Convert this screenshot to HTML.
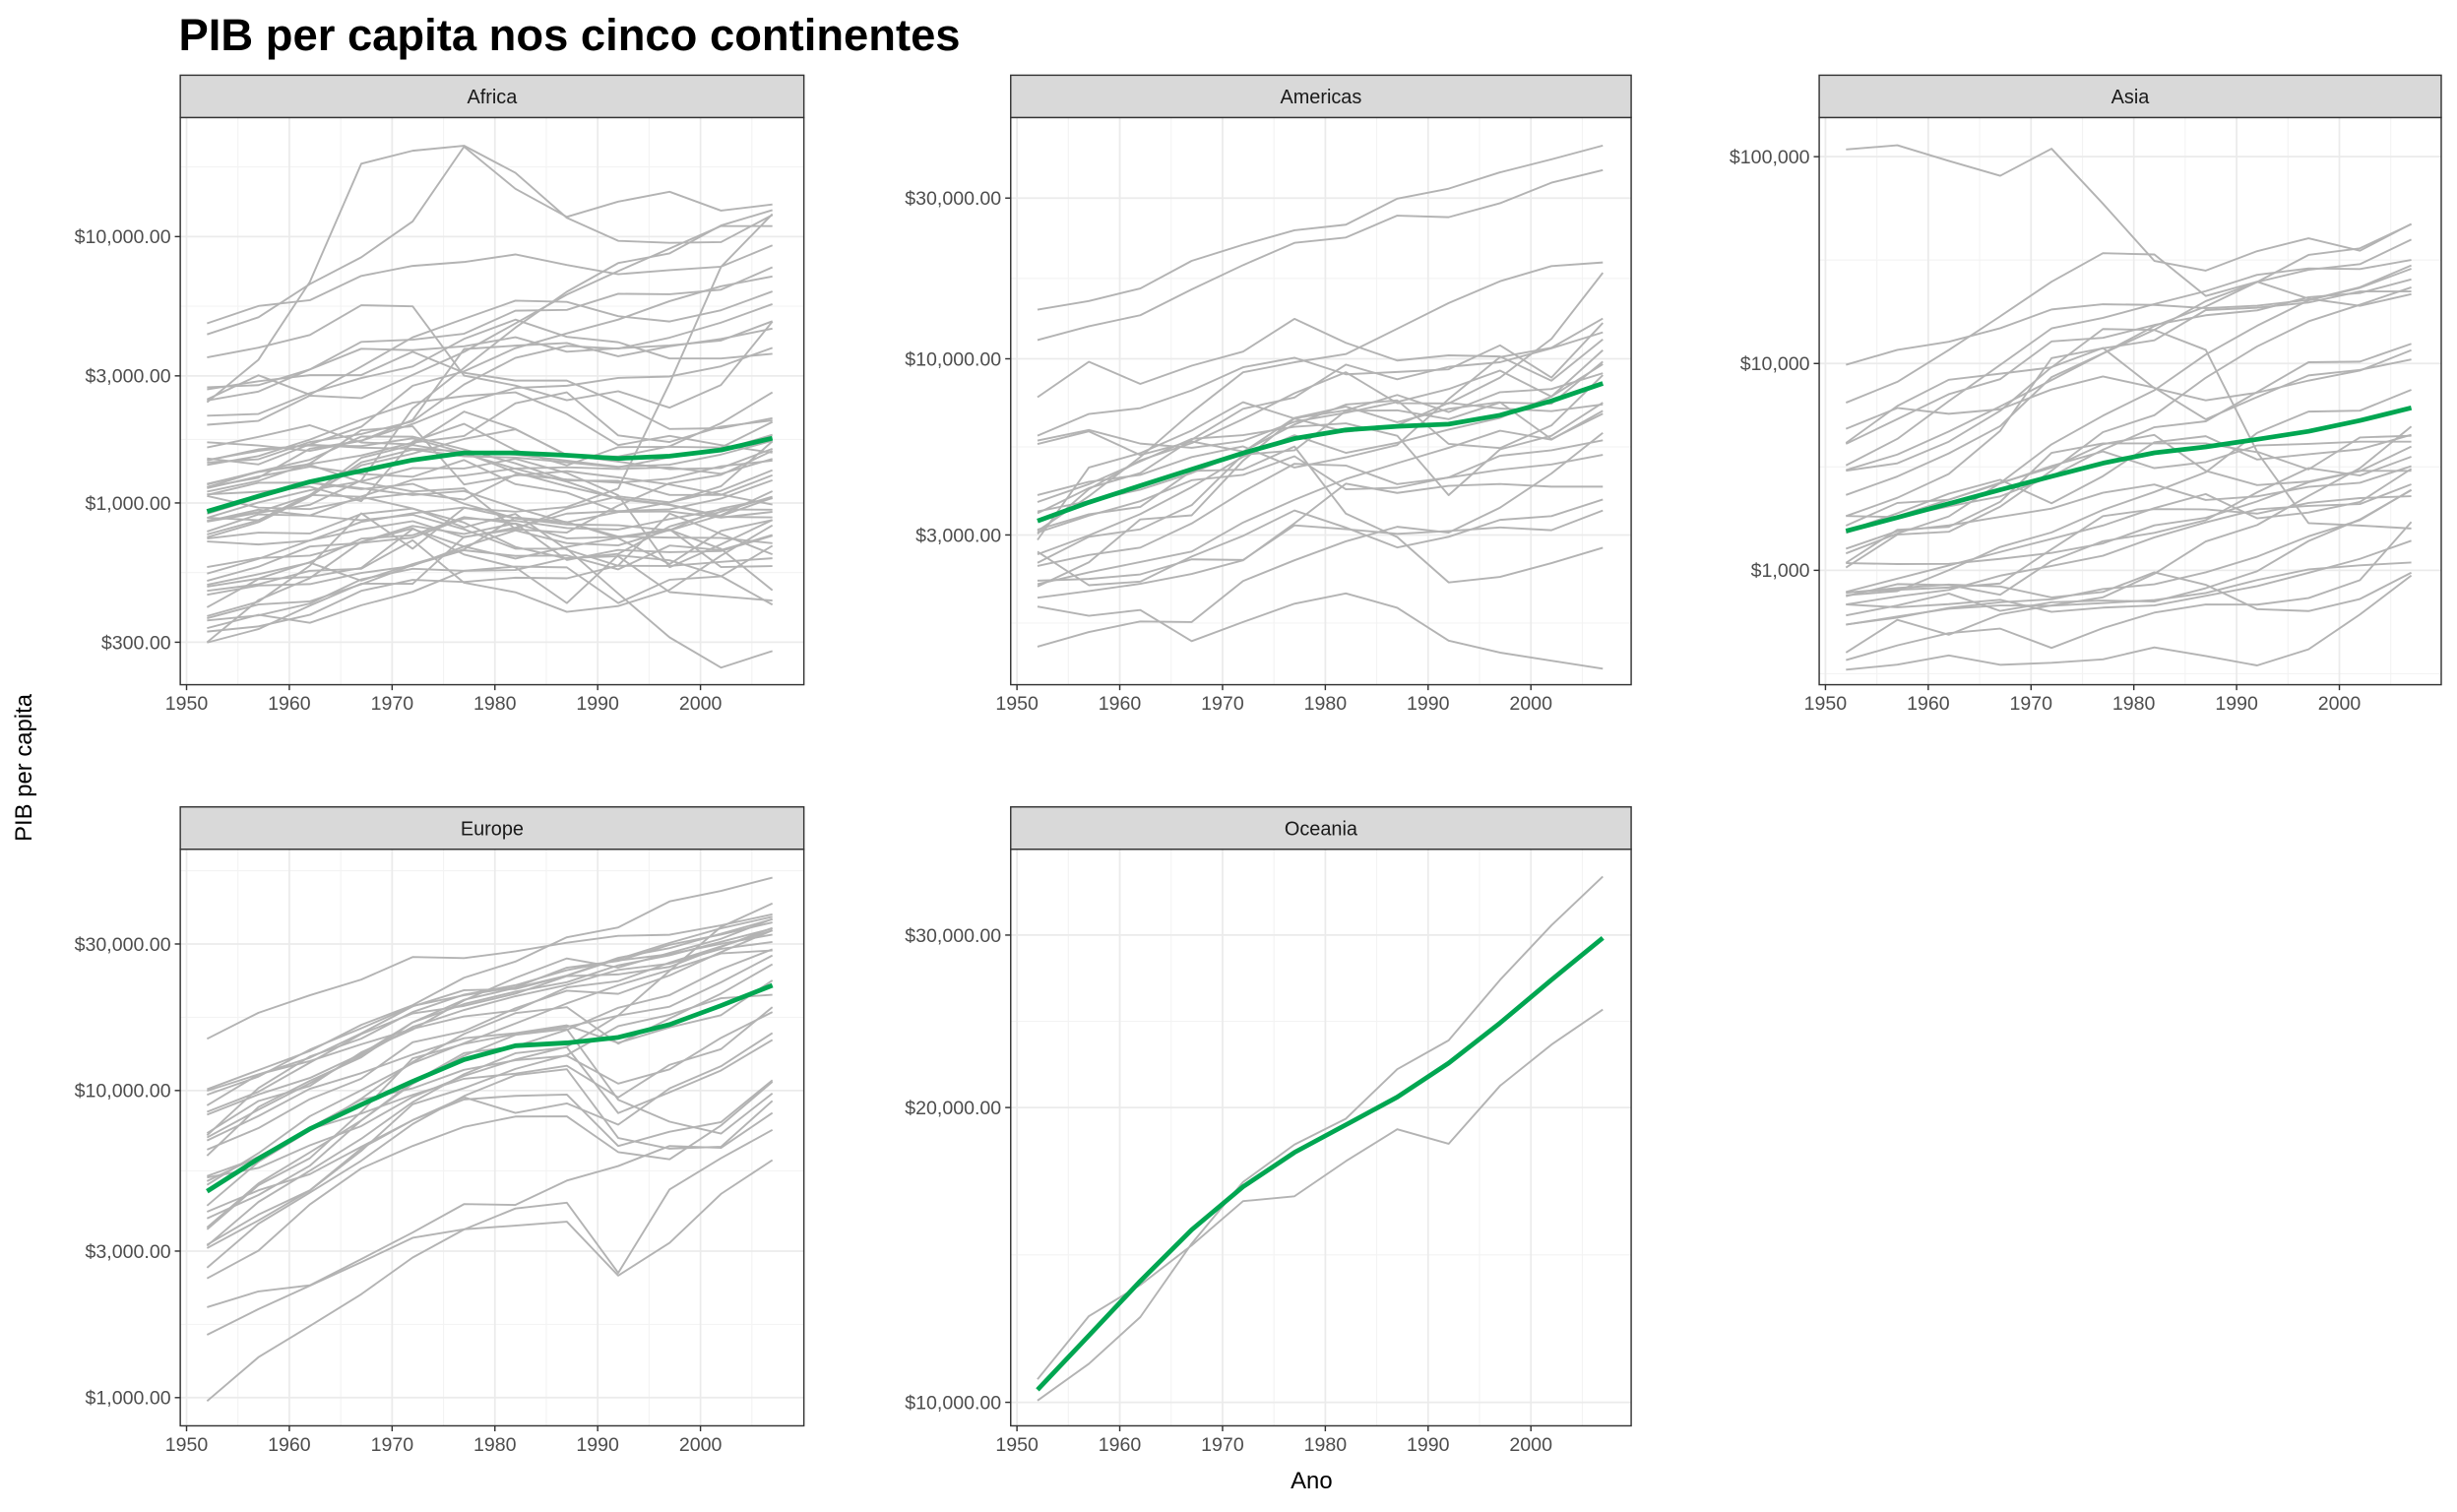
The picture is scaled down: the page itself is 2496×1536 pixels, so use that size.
<!DOCTYPE html>
<html><head><meta charset="utf-8"><style>
html,body{margin:0;padding:0;background:#fff}
svg{display:block}
text{font-family:"Liberation Sans",sans-serif}
</style></head><body>
<svg id="chart" xmlns="http://www.w3.org/2000/svg" width="2496" height="1536" viewBox="0 0 1568 965">
<rect x="0" y="0" width="1568" height="965" fill="#fff"/>
<text x="114" y="32" font-size="28.5" font-weight="bold" fill="#000">PIB per capita nos cinco continentes</text>
<text x="0" y="0" transform="translate(20,490) rotate(-90)" font-size="15" text-anchor="middle" fill="#000">PIB per capita</text>
<text x="837" y="950" font-size="15" text-anchor="middle" fill="#000">Ano</text>
<g id="panels"></g>
</svg>
<script>
const years = [1952,1957,1962,1967,1972,1977,1982,1987,1992,1997,2002,2007];
const xTicks = [1950,1960,1970,1980,1990,2000];

const africaSeries = [
[2449,3014,2551,3247,4183,4910,5745,5681,5023,4797,5288,6223],
[3521,3828,4269,5523,5473,3009,2757,2430,2628,2277,2773,4797],
[1063,960,949,1036,1086,1029,1278,1226,1191,1233,1373,1441],
[851,918,984,1215,2264,3215,4551,6206,7954,8647,11004,12570],
[543,617,723,795,855,743,807,912,932,946,1038,1217],
[339,380,355,413,464,556,560,621,631,463,446,430],
[1173,1313,1400,1508,1684,1783,2367,2603,1793,1694,1934,2042],
[1071,1191,1193,1136,1070,1109,957,844,748,741,739,706],
[1179,1308,1390,1197,1104,1134,798,952,1058,1005,1156,1704],
[1103,1211,1407,1876,1938,1173,1267,1316,1247,1174,1076,986],
[781,906,896,862,904,796,673,673,457,313,241,278],
[2126,2158,2586,2942,3254,4132,4880,4201,4016,3485,3484,3633],
[1389,1500,1729,2053,2378,2518,2603,2157,1649,1786,1649,1545],
[2670,2865,3021,3020,3695,3082,2880,2880,2377,1896,1908,2082],
[1419,1459,1693,1815,2024,2785,3503,3885,3795,4173,4755,5581],
[376,426,582,915,673,958,927,966,1132,2814,7703,12154],
[329,344,380,468,514,505,524,521,582,913,765,641],
[362,378,419,516,566,556,577,573,421,515,530,691],
[4293,4976,6631,8358,11401,21745,15113,11864,13522,14723,12522,13206],
[485,520,599,734,757,885,836,611,666,654,660,753],
[911,1044,1190,1126,1179,993,876,847,925,1005,1112,1328],
[510,576,686,708,741,874,857,805,794,870,945,943],
[300,432,522,715,820,765,838,736,745,797,575,579],
[854,944,897,1057,1222,1267,1348,1361,1341,1360,1287,1463],
[299,336,412,498,497,745,797,774,977,1186,1275,1569],
[575,621,634,713,803,640,573,421,636,609,531,415],
[2388,3448,6757,18773,21011,21951,17364,11770,9640,9467,9535,12057],
[1443,1589,1643,1634,1748,1544,1302,1155,1040,987,894,1044],
[369,416,427,495,584,664,633,635,563,692,665,759],
[452,490,496,546,581,686,618,684,740,790,952,1042],
[743,846,1055,1421,1586,1497,1481,1421,1361,1483,1579,1803],
[1967,2034,2529,2475,3024,3688,4725,6058,7426,9021,10957,10957],
[1688,1643,1567,1712,1978,2370,2703,2755,2948,2982,3258,3820],
[468,495,556,566,724,502,462,390,410,472,634,824],
[2424,2621,3173,3794,3747,3876,4191,3694,3805,3899,4072,4811],
[762,860,1072,1054,954,809,909,668,581,580,601,620],
[1077,1101,1151,1015,1698,1982,1577,1385,1620,1625,1615,2014],
[2719,2769,3173,4022,4100,4320,5267,5303,6101,6072,6316,7670],
[493,540,597,511,590,670,882,848,737,590,786,863],
[880,861,1071,1385,1532,1738,1890,1516,1429,1339,1353,1598],
[1450,1567,1654,1612,1597,1561,1518,1441,1367,1392,1519,1712],
[879,1004,1116,1206,1353,1348,1466,1295,1068,574,699,863],
[1136,1258,1369,1285,1254,1450,1176,1093,926,930,882,926],
[4725,5487,5768,7114,7765,8028,8568,7826,7226,7479,7710,9270],
[1616,1771,1959,1687,1659,2202,1896,1507,1493,1632,1993,2602],
[1148,1244,1597,1711,2050,3781,3895,3985,3553,3876,4128,4513],
[717,698,722,849,915,962,875,831,825,789,900,1107],
[859,925,1068,1477,1650,1532,1344,1203,1034,982,886,883],
[1469,1396,1660,1932,2753,3121,3810,4332,4876,5722,6505,7093],
[735,774,768,909,952,844,683,618,644,816,927,1056],
[1147,1312,1453,1777,1773,1589,1409,1213,1211,1071,1072,1271],
[406,518,527,570,799,686,789,706,693,792,672,470]
];
const americasSeries = [
[5911,6857,7133,8053,9443,10079,8998,9140,9308,10968,8798,12779],
[2677,2128,2181,2587,2980,3548,3157,2754,2962,3326,3413,3822],
[2109,2487,3337,3430,4986,6660,7031,7808,6950,7958,8131,9066],
[11367,12490,13462,16077,18971,22091,22899,26627,26343,28955,33329,36319],
[3940,4316,4520,5107,5494,4757,5096,5547,7597,10118,10779,13172],
[2144,2324,2492,2679,3265,3816,4398,4903,5445,6117,5755,7007],
[2628,2991,3460,4162,5118,5927,5262,5630,6161,6677,7723,9645],
[5587,6092,5181,5690,5305,6381,7317,7533,5593,5432,6341,8948],
[1398,1544,1662,1654,2190,2523,2873,3174,3048,3614,4564,6025],
[3522,3781,4087,4580,5281,6680,7213,6481,7104,7430,5773,6873],
[3048,3422,3776,4359,4520,5138,4098,4141,4445,5154,5352,5728],
[2428,2617,2750,3243,4031,4879,4821,4247,4439,4685,4858,5186],
[1840,1726,1797,1452,1654,1875,2012,1823,1456,1342,1270,1202],
[2195,2220,2292,2538,2529,3203,3121,3023,3082,3160,3099,3548],
[2899,4757,5246,6125,7434,6650,6068,6351,7404,7122,6994,7321],
[3478,4132,4582,5755,7107,7675,9611,8688,9472,9767,10742,11978],
[3112,3458,3634,4644,4689,5487,3470,2955,2170,2253,2475,2749],
[2480,2962,3119,3678,5190,5352,7009,7034,6619,7414,7357,9809],
[1952,2046,2149,2299,2523,3249,4259,3999,4196,4248,4173,4173],
[3759,4245,4957,5788,5938,6281,6435,5909,3940,5383,5909,7409],
[3082,3908,5108,6930,9124,9770,10331,12281,14642,16999,18856,19329],
[3023,4101,4998,5621,6620,7900,9119,7389,7370,8793,11461,18009],
[13990,14847,16173,19531,21806,24073,25010,29884,32004,35767,39097,42952],
[5717,6151,5603,5445,5703,6505,6920,7452,8137,9230,7727,10611],
[7690,9802,8422,9541,10505,13144,11152,9884,10234,10165,8606,11416]
];
const asiaSeries = [
[779,821,853,836,740,786,978,852,649,635,727,975],
[9867,11636,12753,14805,18269,19340,19211,18524,19036,20292,23404,29796],
[684,662,686,721,630,660,677,752,838,973,1136,1391],
[368,434,497,523,422,525,624,684,682,734,896,1713],
[400,576,488,613,677,741,962,1379,1656,2289,3119,4959],
[3054,3629,4693,6198,8316,11186,14561,20038,24757,28378,30209,39725],
[547,590,658,700,724,813,856,977,1164,1459,1747,2452],
[750,858,849,762,1111,1383,1517,1748,2383,3119,2874,3541],
[3035,3290,4187,5907,9613,11889,7608,6642,7235,8263,9241,11606],
[4130,6229,8342,8931,9576,14688,14517,11644,3745,3076,4391,4471],
[4087,5385,7106,8393,12787,13307,15367,17122,18051,20897,21906,25523],
[3217,4318,6577,9847,14779,16610,19384,22376,26825,28817,28605,31656],
[1547,1886,2348,2742,2110,2852,4161,4449,3432,3645,3845,4519],
[1088,1571,1622,2144,3702,4106,4106,4106,3726,1690,1647,1593],
[1031,1488,1536,2029,3031,4657,5623,8533,12104,15994,19234,23348],
[108382,113523,95458,80895,109348,59265,31354,28118,34933,40301,35110,47307],
[4835,6090,5716,6006,7486,8659,7640,5378,6890,8755,9314,10461],
[1831,1810,2037,2278,2849,3828,4920,5249,7278,10133,10207,12452],
[786,912,1056,1226,1421,1648,2000,2338,1786,1903,2141,3096],
[331,350,388,349,357,371,424,385,347,415,611,944],
[546,598,652,676,674,695,718,776,897,1011,1057,1091],
[1828,2243,2924,4720,10618,11848,12955,18115,18616,19702,22316,22316],
[684,747,804,942,1050,1176,1443,1705,1971,2049,2093,2606],
[1273,1548,1650,1814,1989,2373,2603,2189,2279,2536,2651,3190],
[6460,8157,11627,16903,24837,34168,33693,21198,24841,20586,19014,21655],
[2315,2843,3675,4977,8597,11210,15169,18861,24769,33519,36023,47143],
[1084,1073,1074,1136,1213,1349,1649,1794,2154,2665,3016,3970],
[1644,2118,2194,2635,3195,3761,3116,3340,4014,4090,4185,4185],
[1207,1508,1823,2644,4062,5597,7427,11055,15216,20207,23235,28718],
[758,793,1002,1296,1525,1961,2393,2982,4616,5853,5913,7458],
[605,676,772,637,700,714,707,820,989,1386,1764,2442],
[1516,1827,2198,2650,3133,4070,4515,3026,2581,2690,3029,3025],
[782,805,826,863,1265,1829,1978,1972,1879,2117,2235,2281]
];
const europeSeries = [
[1601,1942,2313,2760,3313,3533,3631,3739,2497,3193,4604,5937],
[6137,8843,10751,12835,16662,19749,21597,23688,27042,29096,32418,36126],
[8343,9715,10991,13149,16672,19118,20980,22526,25576,27561,30486,33693],
[974,1354,1710,2172,2860,3528,4127,4314,2547,4766,6019,7446],
[2444,3009,4255,5577,6598,7612,8225,8240,6303,5970,7697,10681],
[3120,4339,5478,6960,9164,11305,13222,13823,8448,9876,11628,14619],
[6876,8257,10136,11399,13108,14800,15377,16310,14297,16049,17596,22833],
[9692,11100,13583,15937,18866,20423,21689,25116,26407,29804,32167,35278],
[6425,7545,9372,10922,14359,15605,18533,21141,20647,23724,28205,33207],
[7030,8663,10560,13000,16107,18293,20294,22066,24704,25890,28926,30470],
[7144,10188,12902,14746,18016,20513,22032,24639,26505,27789,30036,32170],
[3531,4916,6017,8513,12725,14196,15268,16121,17541,18748,22514,27538],
[5264,6040,7550,9326,10168,11674,12546,12986,10536,11712,14843,18009],
[7268,9244,10350,13320,15798,19655,23270,26923,25144,28061,31163,36181],
[5210,5599,6632,7656,9531,11151,12618,13873,17558,24522,34077,40676],
[4931,6249,8243,10022,12269,14256,16537,19208,22014,24675,27968,28570],
[2648,3682,4650,5908,7779,9595,11223,11733,7003,6465,6558,9254],
[8942,11277,12790,15363,18795,21209,21400,23652,26791,30246,33725,36798],
[10095,11654,13450,16362,18965,23312,26299,31541,33966,41283,44684,49357],
[4029,4734,5339,6557,8007,9508,8451,9082,7739,10160,12002,15390],
[3068,3775,4728,6361,9022,10172,11754,13039,16207,17642,19971,20510],
[3144,3944,4734,6471,8011,9356,9605,9697,6598,7346,7886,10808],
[3581,4981,6290,7992,10523,12980,15181,15870,9325,7914,7236,9787],
[5074,6094,7481,8412,9674,10923,11348,12037,9498,12127,13638,18678],
[4215,5862,7403,9406,12383,15277,17867,18678,14214,17161,20661,25768],
[3834,4565,5693,7993,10638,13237,13926,15765,18603,20445,24835,28821],
[8528,9911,12329,15258,17832,18855,20667,23587,23880,25267,29341,33860],
[14734,17909,20431,22966,27195,26982,28398,30282,31871,32135,34481,37506],
[1970,2219,2323,2826,3451,4269,4241,5089,5678,6601,6508,8458],
[9980,11283,12477,14143,15895,17428,18232,21665,22705,26074,29479,33203]
];
const oceaniaSeries = [
[10040,10950,12217,14526,16789,18334,19477,21889,23425,26998,30688,34435],
[10557,12247,13176,14464,16046,16234,17632,19007,18363,21050,23190,25185]
];
const africaTrend   = [930,1060,1200,1320,1450,1540,1540,1510,1470,1500,1580,1750];
const americasTrend = [3300,3750,4200,4700,5250,5800,6150,6300,6400,6800,7500,8450];
const asiaTrend     = [1550,1800,2100,2450,2850,3300,3700,3950,4300,4700,5300,6100];
const europeTrend   = [4700,6000,7500,9000,10700,12600,14000,14300,14900,16400,18900,22000];
const oceaniaTrend  = [10300,11700,13300,15000,16600,18000,19200,20500,22200,24400,27000,29800];

const africaTicks = [300,1000,3000,10000];
const americasTicks = [3000,10000,30000];
const asiaTicks = [1000,10000,100000];
const europeTicks = [1000,3000,10000,30000];
const oceaniaTicks = [10000,20000,30000];

const NS = "http://www.w3.org/2000/svg";
const root = document.getElementById('panels');
function mk(tag, attrs, parent){
  const e = document.createElementNS(NS, tag);
  for (const k in attrs) e.setAttribute(k, attrs[k]);
  (parent||root).appendChild(e);
  return e;
}
function fmt2(v){return '$'+v.toLocaleString('en-US',{minimumFractionDigits:2,maximumFractionDigits:2});}
function fmt0(v){return '$'+v.toLocaleString('en-US');}

const panels = [
 {name:'Africa', x0:115,x1:513,y0:75,y1:437, ref:1000, refY:321, k:170, series:africaSeries, trend:africaTrend, ticks:africaTicks, fmt:fmt2},
 {name:'Americas', x0:645,x1:1041,y0:75,y1:437, ref:10000, refY:229, k:215, series:americasSeries, trend:americasTrend, ticks:americasTicks, fmt:fmt2},
 {name:'Asia', x0:1161,x1:1558,y0:75,y1:437, ref:10000, refY:232, k:132, series:asiaSeries, trend:asiaTrend, ticks:asiaTicks, fmt:fmt0},
 {name:'Europe', x0:115,x1:513,y0:542,y1:910, ref:10000, refY:696, k:196, series:europeSeries, trend:europeTrend, ticks:europeTicks, fmt:fmt2},
 {name:'Oceania', x0:645,x1:1041,y0:542,y1:910, ref:10000, refY:895, k:625, series:oceaniaSeries, trend:oceaniaTrend, ticks:oceaniaTicks, fmt:fmt2}
];

panels.forEach(p => {
  const slug = p.name.toLowerCase();
  const g = mk('g', {});
  
  
  const xs = yr => p.x0 + 4 + (yr - 1950) * 328 / 50;
  const ys = v => p.refY - p.k * (Math.log10(v) - Math.log10(p.ref));
  mk('rect', {x:p.x0, y:p.y0, width:p.x1-p.x0, height:p.y1-p.y0, fill:'#fff'}, g);
  const cid = 'clip-' + slug;
  const cp = mk('clipPath', {id:cid}, g);
  mk('rect', {x:p.x0, y:p.y0, width:p.x1-p.x0, height:p.y1-p.y0}, cp);
  const grid = mk('g', {'clip-path':'url(#'+cid+')'}, g);
  for (let yr = 1945; yr <= 2015; yr += 10) {
    mk('line', {x1:xs(yr), x2:xs(yr), y1:p.y0, y2:p.y1, stroke:'#f3f3f3', 'stroke-width':0.7}, grid);
  }
  const lt = p.ticks.map(Math.log10);
  const step = lt.length > 1 ? lt[1]-lt[0] : 0.5;
  const ext = [lt[0]-step, ...lt, lt[lt.length-1]+step];
  for (let i = 0; i < ext.length-1; i++) {
    const m = Math.pow(10, (ext[i]+ext[i+1])/2);
    mk('line', {x1:p.x0, x2:p.x1, y1:ys(m), y2:ys(m), stroke:'#f3f3f3', 'stroke-width':0.7}, grid);
  }
  xTicks.forEach(yr => mk('line', {x1:xs(yr), x2:xs(yr), y1:p.y0, y2:p.y1, stroke:'#ebebeb', 'stroke-width':1.1}, grid));
  p.ticks.forEach(v => mk('line', {x1:p.x0, x2:p.x1, y1:ys(v), y2:ys(v), stroke:'#ebebeb', 'stroke-width':1.1}, grid));
  p.series.forEach((s, i) => {
    const d = s.map((v, j) => (j ? 'L' : 'M') + xs(years[j]).toFixed(1) + ',' + ys(v).toFixed(1)).join('');
    const path = mk('path', {d:d, fill:'none', stroke:'#b3b3b3', 'stroke-width':1.2, 'stroke-linejoin':'round'}, grid);
    
    
  });
  const td = p.trend.map((v, j) => (j ? 'L' : 'M') + xs(years[j]).toFixed(1) + ',' + ys(v).toFixed(1)).join('');
  const tp = mk('path', {d:td, fill:'none', stroke:'#00a651', 'stroke-width':3, 'stroke-linejoin':'round', 'stroke-linecap':'butt'}, grid);
  
  
  mk('rect', {x:p.x0, y:p.y0, width:p.x1-p.x0, height:p.y1-p.y0, fill:'none', stroke:'#333', 'stroke-width':0.9}, g);
  const sr = mk('rect', {x:p.x0, y:p.y0-27, width:p.x1-p.x0, height:27, fill:'#d9d9d9', stroke:'#333', 'stroke-width':0.9}, g);
  
  
  const st = mk('text', {x:(p.x0+p.x1)/2, y:p.y0-9, 'font-size':12.5, 'text-anchor':'middle', fill:'#1a1a1a'}, g);
  st.textContent = p.name;
  
  
  xTicks.forEach(yr => {
    mk('line', {x1:xs(yr), x2:xs(yr), y1:p.y1, y2:p.y1+3.5, stroke:'#333', 'stroke-width':0.9}, g);
    const t = mk('text', {x:xs(yr), y:p.y1+16, 'font-size':12.3, 'text-anchor':'middle', fill:'#4d4d4d'}, g);
    t.textContent = yr;
    
    
  });
  p.ticks.forEach(v => {
    mk('line', {x1:p.x0-3.5, x2:p.x0, y1:ys(v), y2:ys(v), stroke:'#333', 'stroke-width':0.9}, g);
    const t = mk('text', {x:p.x0-6, y:ys(v)+4.3, 'font-size':12.3, 'text-anchor':'end', fill:'#4d4d4d'}, g);
    t.textContent = p.fmt(v);
    
    
  });
});
</script>
</body></html>
